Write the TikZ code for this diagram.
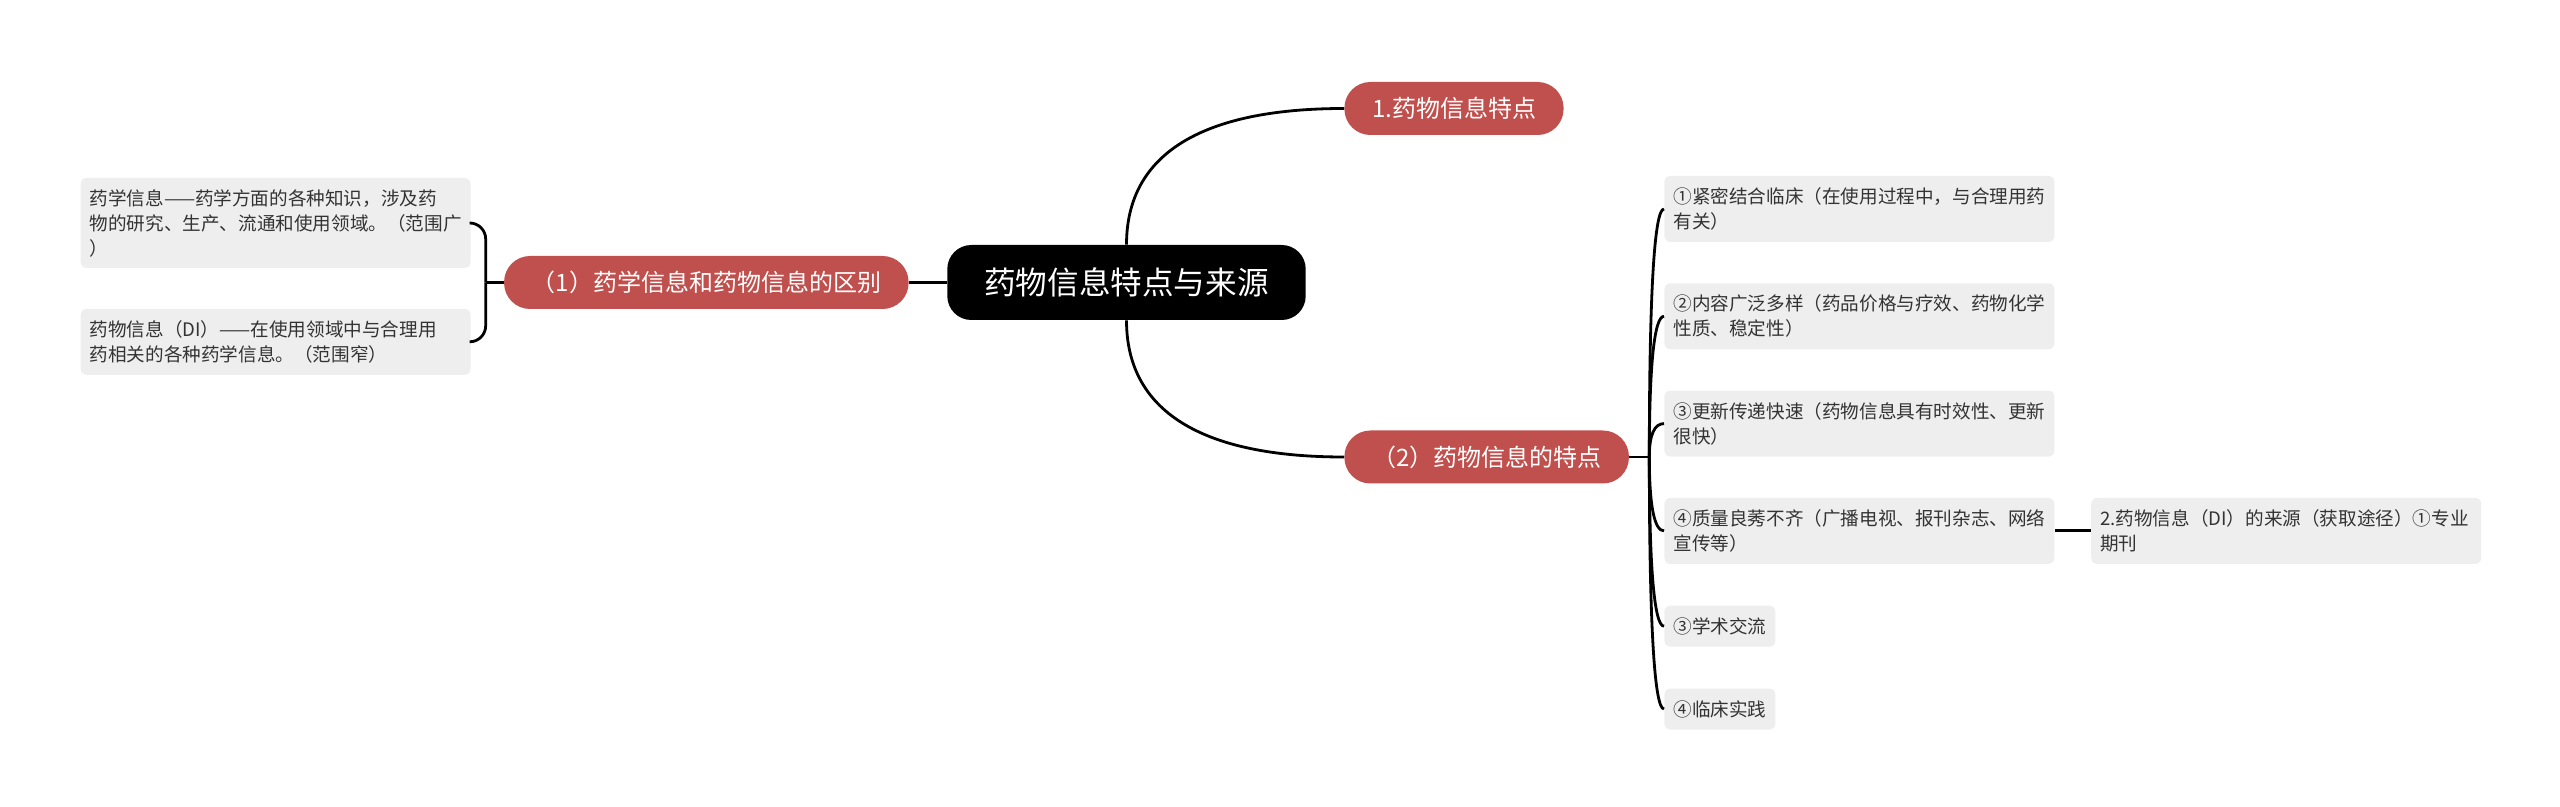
\documentclass[tikz,border=0pt]{standalone}
\usepackage{fontspec}
\setmainfont{Noto Sans CJK SC}
\usepackage{xcolor}
\usepackage{tikz}
\usetikzlibrary{
  positioning,
  calc
}
\definecolor{RootBlack}{RGB}{0,0,0}
\definecolor{BranchRed}{RGB}{192,80,77}
\definecolor{LeafGray}{RGB}{238,238,238}
\definecolor{TextGray}{RGB}{51,51,51}
\tikzset{
  %%── 节点 ──────────────────────────────
  rootnode/.style = {
    rectangle, rounded corners = 12pt,
    fill = RootBlack, text = white,
    minimum height = 37.5pt, inner xsep = 18.5pt, inner ysep = 0pt,
    font = \fontsize{15.8pt}{18pt}\selectfont
  },
  branch/.style = {
    rectangle, rounded corners = 13pt,
    fill = BranchRed, text = white,
    minimum height = 26.5pt, inner xsep = 13.8pt, inner ysep = 0pt,
    font = \fontsize{12pt}{14pt}\selectfont
  },
  leaf/.style = {
    rectangle, rounded corners = 3pt,
    fill = LeafGray, text = TextGray,
    minimum height = 20.5pt, inner xsep = 4.5pt, inner ysep = 2pt,
    align = left, font = \fontsize{9.3pt}{12.5pt}\selectfont
  },
  wideleaf/.style = {leaf, text width = 186pt, minimum height = 33pt},
  %%── 连线 ──────────────────────────────
  link/.style = {line width = 1.4pt, color = black},
  mmcurve/.style = {to path = {
    .. controls ($(\tikztostart)!0.66!(\tikztostart|-\tikztotarget)$)
    and ($(\tikztotarget)!0.66!(\tikztostart|-\tikztotarget)$)
    .. (\tikztotarget)}}
}

\begin{document}
\begin{tikzpicture}[x = 0.5pt, y = -0.5pt]
  \useasboundingbox (0,0) rectangle (2560,807);
  %%── 中心主题与分支 ──
  \node[rootnode] (root) at (1126.5,282.5) {药物信息特点与来源};
  \node[branch, anchor=west] (topic1) at (1344,108.5) {1.药物信息特点};
  \node[branch, anchor=east] (diff) at (909,282.5) {（1）药学信息和药物信息的区别};
  \node[branch, anchor=west] (feat) at (1344,457) {（2）药物信息的特点};
  %%── 左侧 ──
  \node[wideleaf, minimum height=45pt, anchor=east] (pharm) at (471,223)
    {药学信息——药学方面的各种知识，涉及药\\物的研究、生产、流通和使用领域。（范围广\\）};
  \node[wideleaf, below=20pt of pharm] (drug)
    {药物信息（DI）——在使用领域中与合理用\\药相关的各种药学信息。（范围窄）};
  %%── 右侧 ──
  \node[wideleaf, anchor=west] (clin) at (1664,209)
    {①紧密结合临床（在使用过程中，与合理用药\\有关）};
  \node[wideleaf, below=20.25pt of clin] (wide)
    {②内容广泛多样（药品价格与疗效、药物化学\\性质、稳定性）};
  \node[wideleaf, below=20.25pt of wide] (fast)
    {③更新传递快速（药物信息具有时效性、更新\\很快）};
  \node[wideleaf, below=20.25pt of fast] (qual)
    {④质量良莠不齐（广播电视、报刊杂志、网络\\宣传等）};
  \node[leaf, below right=20.5pt and 0pt of qual.south west] (acad) {③学术交流};
  \node[leaf, below right=20.5pt and 0pt of acad.south west] (prac) {④临床实践};
  \node[wideleaf, right=18pt of qual] (src)
    {2.药物信息（DI）的来源（获取途径）①专业\\期刊};
  %%── 连线 ──
  \coordinate (jl) at ($(diff.west)+(-18,0)$);
  \coordinate (jr) at ($(feat.east)+(20,0)$);
  \draw[link] (root.west) -- (diff.east);
  \draw[link] (root.north) to[mmcurve] (topic1.west);
  \draw[link] (root.south) to[mmcurve] (feat.west);
  \draw[link] (diff.west) -- (jl);
  \draw[link, rounded corners=8pt] (jl) |- (pharm.east);
  \draw[link, rounded corners=8pt] (jl) |- (drug.east);
  \draw[link] (feat.east) -- (jr);
  \foreach \n in {clin, wide, fast, qual, acad, prac}
    \draw[link] (jr) to[mmcurve] (\n.west);
  \draw[link] (qual.east) -- (src.west);
\end{tikzpicture}
\end{document}
